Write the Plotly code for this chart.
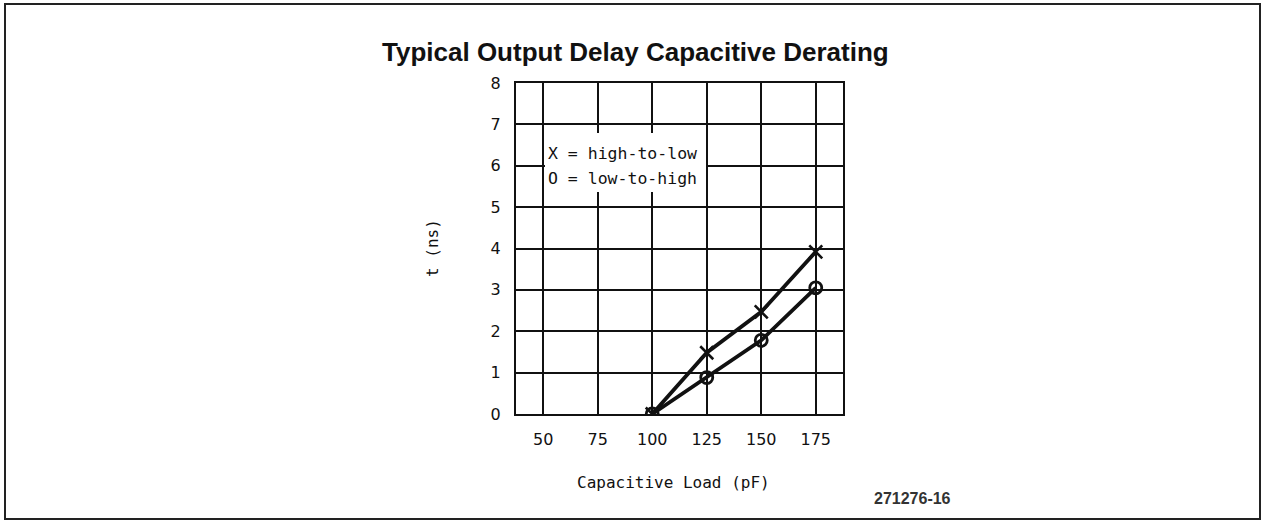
import plotly.graph_objects as go

# Data
load_pf = [100, 125, 150, 175]
high_to_low = [0.0, 1.48, 2.47, 3.92]
low_to_high = [0.0, 0.88, 1.78, 3.05]

x_ticks = [50, 75, 100, 125, 150, 175]
y_ticks = [0, 1, 2, 3, 4, 5, 6, 7, 8]

W, H = 1262, 523
L, R, T, B = 516, 843, 83, 414  # plot-area pixel box


def px(x):
    return (x - L) / (R - L)


def py(y):
    return (B - y) / (B - T)


fig = go.Figure()
fig.add_trace(go.Scatter(
    x=load_pf, y=high_to_low, mode="lines+markers", name="high-to-low",
    line=dict(color="#111", width=3.8),
    marker=dict(symbol="x-thin-open", size=13, line=dict(color="#111", width=2.6)),
))
fig.add_trace(go.Scatter(
    x=load_pf, y=low_to_high, mode="lines+markers", name="low-to-high",
    line=dict(color="#111", width=3.8),
    marker=dict(symbol="circle-open", size=12, line=dict(color="#111", width=2.8)),
))

tick_font = dict(family="DejaVu Sans", size=16, color="#111")
mono = "DejaVu Sans Mono"

fig.update_xaxes(
    range=[37.5, 187.5], tickvals=x_ticks, ticktext=[str(v) for v in x_ticks],
    showgrid=True, gridcolor="#111", gridwidth=1.6,
    showline=True, linecolor="#111", linewidth=2.2, mirror=True,
    zeroline=False, ticks="", tickfont=tick_font, ticklabelstandoff=10,
)
fig.update_yaxes(
    range=[0, 8], tickvals=y_ticks, ticktext=[str(v) for v in y_ticks],
    showgrid=True, gridcolor="#111", gridwidth=1.6,
    showline=True, linecolor="#111", linewidth=2.2, mirror=True,
    zeroline=False, ticks="", tickfont=tick_font, ticklabelstandoff=10,
)

shapes = [
    # outer frame of the figure
    dict(type="rect", xref="paper", yref="paper",
         x0=px(5), x1=px(1260), y0=py(519), y1=py(4),
         line=dict(color="#222", width=2), fillcolor="rgba(0,0,0,0)", layer="below"),
    # white background behind the in-plot key
    dict(type="rect", xref="paper", yref="paper",
         x0=px(545), x1=px(706), y0=py(192), y1=py(133),
         line=dict(width=0), fillcolor="white", layer="above"),
]

annotations = [
    dict(text="<b>Typical Output Delay Capacitive Derating</b>", xref="paper", yref="paper",
         x=px(635.5), y=py(52), showarrow=False, xanchor="center", yanchor="middle",
         font=dict(family="Liberation Sans", size=26, color="#111")),
    dict(text="X = high-to-low", xref="paper", yref="paper",
         x=px(546), y=py(153), showarrow=False, xanchor="left", yanchor="middle",
         font=dict(family=mono, size=16.5, color="#111")),
    dict(text="O = low-to-high", xref="paper", yref="paper",
         x=px(546), y=py(178), showarrow=False, xanchor="left", yanchor="middle",
         font=dict(family=mono, size=16.5, color="#111")),
    dict(text="Capacitive Load (pF)", xref="paper", yref="paper",
         x=px(673), y=py(482), showarrow=False, xanchor="center", yanchor="middle",
         font=dict(family=mono, size=16, color="#111")),
    dict(text="t (ns)", xref="paper", yref="paper", textangle=-90,
         x=px(432), y=py(248), showarrow=False, xanchor="center", yanchor="middle",
         font=dict(family=mono, size=16, color="#111")),
    dict(text="<b>271276-16</b>", xref="paper", yref="paper",
         x=px(912), y=py(498), showarrow=False, xanchor="center", yanchor="middle",
         font=dict(family="Liberation Sans", size=16, color="#333")),
]

fig.update_layout(
    width=W, height=H,
    margin=dict(l=L, r=W - R, t=T, b=H - B, pad=0),
    paper_bgcolor="white", plot_bgcolor="white",
    showlegend=False, shapes=shapes, annotations=annotations,
)

fig.write_html(
    "out.html",
    config={"displayModeBar": False},
    post_script="document.body.style.margin='0';document.body.style.overflow='hidden';",
)
